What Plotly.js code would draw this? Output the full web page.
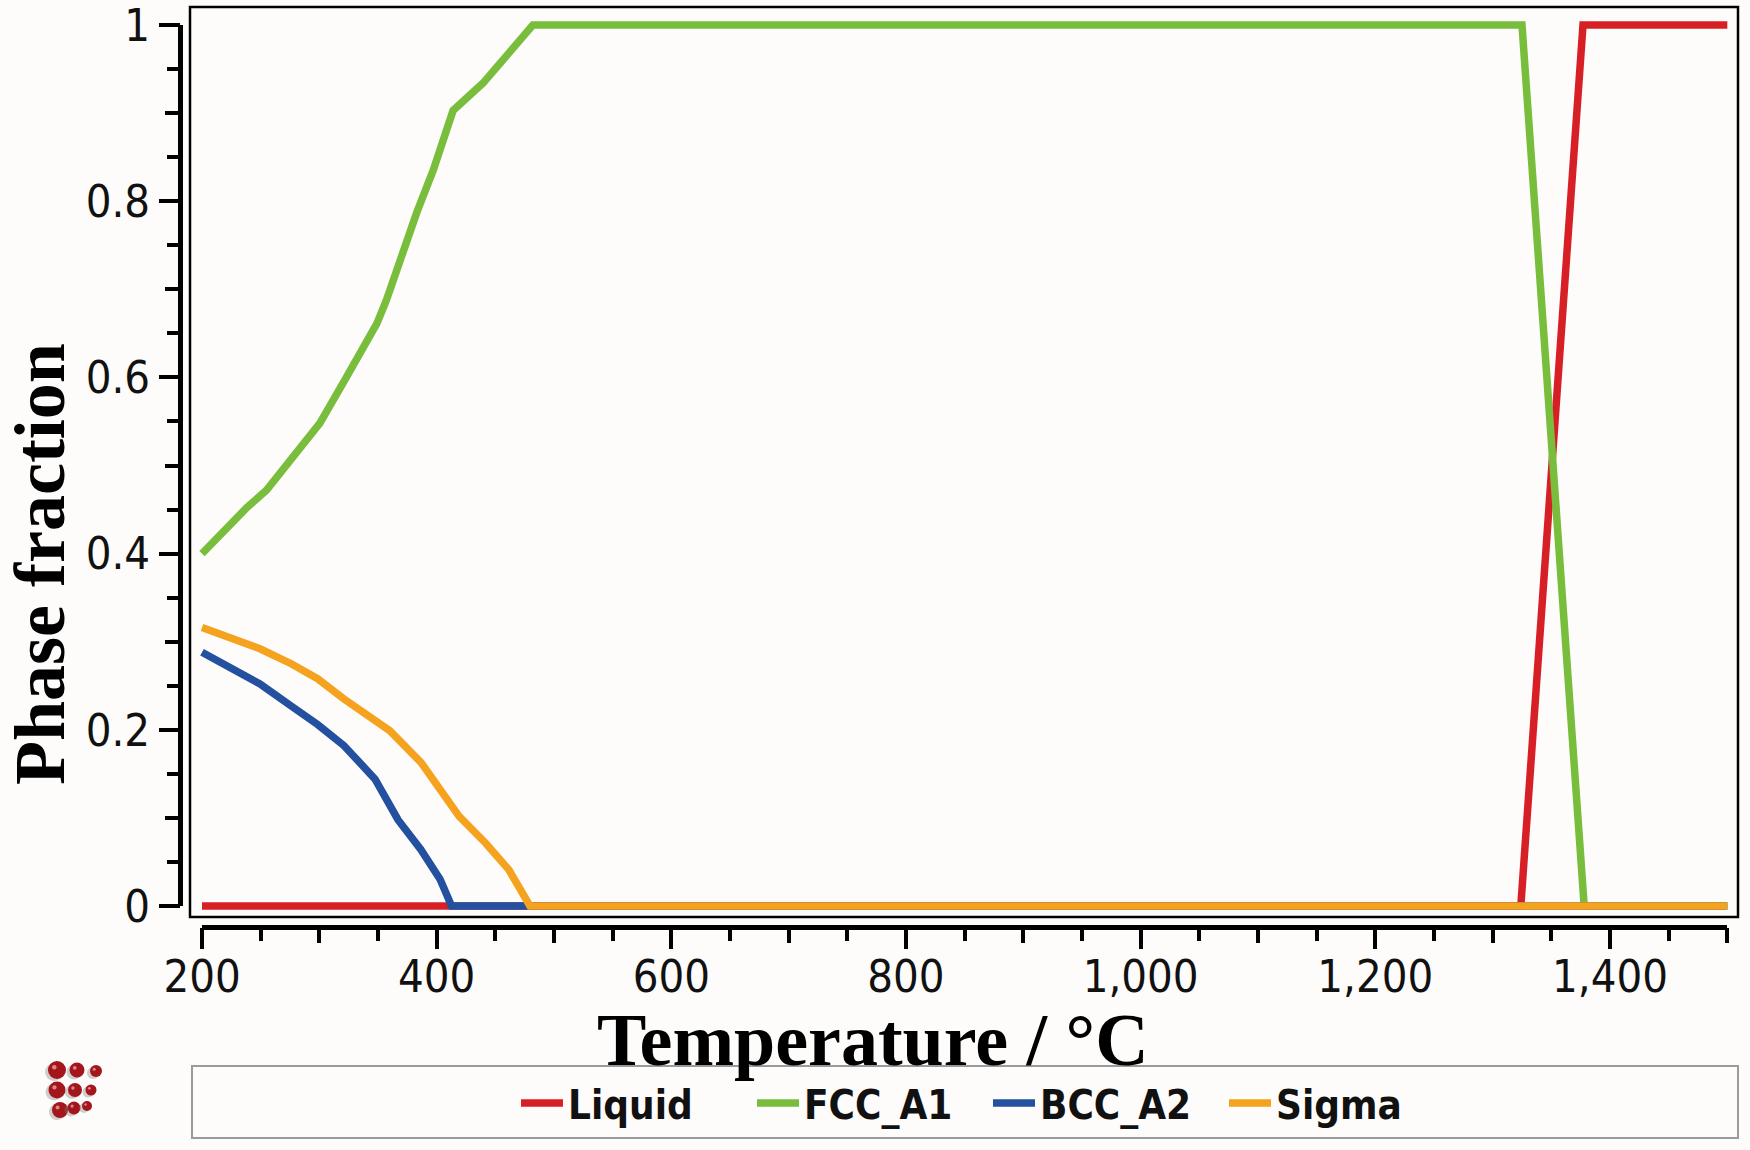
<!DOCTYPE html>
<html><head><meta charset="utf-8">
<script src="https://cdn.plot.ly/plotly-3.0.1.min.js"></script>
<style>html,body{margin:0;padding:0;background:#fdfcfb;} #chart{width:1750px;height:1150px;}</style>
</head><body><div id="chart"></div>
<script>
// ---- data ----
const seriesNames = ['Liquid', 'FCC_A1', 'BCC_A2', 'Sigma'];
const seriesColors = ['#d71f26', '#78bd3c', '#2450a0', '#f5a21e'];

const liquidT = [200, 1324, 1377, 1500];
const liquidF = [0, 0, 1, 1];

const fccT = [200, 238, 255, 275, 300.5, 323, 349, 357, 369, 383, 397, 405, 414, 439.5, 462.5, 482, 1325, 1378, 1500];
const fccF = [0.40, 0.452, 0.472, 0.504, 0.548, 0.60, 0.661, 0.687, 0.735, 0.787, 0.835, 0.87, 0.903, 0.934, 0.968, 1.0, 1.0, 0, 0];

const bccT = [200, 223.5, 249.4, 276, 298.5, 321, 347.5, 367, 386.6, 403, 412.7, 1500];
const bccF = [0.288, 0.271, 0.252, 0.227, 0.206, 0.182, 0.144, 0.098, 0.064, 0.030, 0, 0];

const sigmaT = [200, 223.5, 249.4, 276, 298.5, 321, 347.5, 360, 386.6, 406, 419, 442, 461.6, 479.5, 1500];
const sigmaF = [0.316, 0.305, 0.292, 0.275, 0.258, 0.235, 0.212, 0.199, 0.163, 0.128, 0.102, 0.071, 0.041, 0, 0];

const xTitle = 'Temperature / °C';
const yTitle = 'Phase fraction';
const yTickVals = [0, 0.2, 0.4, 0.6, 0.8, 1];
const yTickText = ['0', '0.2', '0.4', '0.6', '0.8', '1'];

// ---- layout helpers ----
const W = 1750, H = 1150;
const px = v => v / W;
const py = v => (H - v) / H;
const tickFont = {family: 'DejaVu Sans Condensed, DejaVu Sans, sans-serif', size: 45, color: '#111'};
const serif = 'Liberation Serif, Times New Roman, serif';

const xs = [liquidT, fccT, bccT, sigmaT];
const ys = [liquidF, fccF, bccF, sigmaF];
const traces = seriesNames.map((n, i) => ({
  x: xs[i], y: ys[i], name: n, type: 'scatter', mode: 'lines',
  xaxis: 'x', yaxis: 'y',
  line: {color: seriesColors[i], width: 7.5}
}));
traces.push({x: [200], y: [0], xaxis: 'x2', yaxis: 'y2', mode: 'markers',
  marker: {opacity: 0}, showlegend: false, hoverinfo: 'skip'});
traces.push({x: [200], y: [0], xaxis: 'x3', yaxis: 'y3', mode: 'markers',
  marker: {opacity: 0}, showlegend: false, hoverinfo: 'skip'});

const axisCommon = {
  showline: true, linewidth: 5, linecolor: '#000', ticks: 'outside', ticklen: 19, tickwidth: 4,
  tickcolor: '#000', showgrid: false, zeroline: false, tickfont: tickFont, fixedrange: true,
  ticklabeloverflow: 'allow'
};
const midTicks = {
  showline: false, ticks: 'outside', ticklen: 15, tickwidth: 4, tickcolor: '#000',
  showgrid: false, zeroline: false, showticklabels: false, fixedrange: true
};

// logo spheres (decoration)
const logoX = [57, 77, 96, 57, 75, 91, 60, 74, 87];
const logoY = [1070, 1070, 1071, 1090, 1090, 1090, 1110, 1108, 1106];
const logoR = [9, 7.5, 6, 8.5, 7, 5.5, 8, 6.5, 5];

const shapes = [
  {type: 'rect', xref: 'paper', yref: 'paper', x0: px(190), x1: px(1738), y0: py(917), y1: py(7),
   line: {color: '#000', width: 2.5}, fillcolor: 'rgba(0,0,0,0)', layer: 'below'},
  {type: 'rect', xref: 'paper', yref: 'paper', x0: px(192), x1: px(1738), y0: py(1138), y1: py(1066),
   line: {color: '#9a9a9a', width: 2}, fillcolor: 'rgba(0,0,0,0)', layer: 'below'}
];
logoX.forEach((cx, i) => {
  const r = logoR[i], cy = logoY[i];
  shapes.push({type: 'circle', xref: 'paper', yref: 'paper',
    x0: px(cx - r - 3), x1: px(cx + r - 3), y0: py(cy + r + 2), y1: py(cy - r + 2),
    line: {width: 0}, fillcolor: 'rgba(120,120,120,0.35)'});
  shapes.push({type: 'circle', xref: 'paper', yref: 'paper',
    x0: px(cx - r), x1: px(cx + r), y0: py(cy + r), y1: py(cy - r),
    line: {width: 0}, fillcolor: '#a3171c'});
  shapes.push({type: 'circle', xref: 'paper', yref: 'paper',
    x0: px(cx - r * 0.55), x1: px(cx - r * 0.05), y0: py(cy - r * 0.05), y1: py(cy - r * 0.55),
    line: {width: 0}, fillcolor: 'rgba(255,210,210,0.6)'});
});

const xDomain2 = [px(202), px(1727.3)];
const yDomain2 = [py(906.2), py(24.8)];

const layout = {
  width: W, height: H,
  margin: {l: 0, r: 0, t: 0, b: 0},
  paper_bgcolor: '#fdfcfb', plot_bgcolor: 'rgba(0,0,0,0)',
  showlegend: true,
  xaxis: {domain: [px(190), px(1738)], range: [189.77, 1509.1], visible: false, fixedrange: true},
  yaxis: {domain: [py(917), py(7)], range: [-0.01249, 1.02043], visible: false, fixedrange: true},
  xaxis2: Object.assign({}, axisCommon, {
    domain: xDomain2, range: [200, 1500], anchor: 'free', position: py(927),
    tick0: 200, dtick: 200, tickformat: ',', ticklabelstandoff: -11,
    minor: {dtick: 50, ticklen: 11, tickwidth: 4, tickcolor: '#000', ticks: 'outside', showgrid: false}
  }),
  yaxis2: Object.assign({}, axisCommon, {
    domain: yDomain2, range: [-0.0002, 1.0002], anchor: 'free', position: px(180),
    tickmode: 'array', tickvals: yTickVals, ticktext: yTickText,
    minor: {tickmode: 'linear', tick0: 0, dtick: 0.05, ticklen: 11, tickwidth: 4, tickcolor: '#000', ticks: 'outside', showgrid: false}
  }),
  xaxis3: Object.assign({}, midTicks, {
    overlaying: 'x2', domain: xDomain2, range: [200, 1500], anchor: 'free', position: py(927),
    tick0: 200, dtick: 100
  }),
  yaxis3: Object.assign({}, midTicks, {
    overlaying: 'y2', domain: yDomain2, range: [-0.0002, 1.0002], anchor: 'free', position: px(180),
    tick0: 0, dtick: 0.1
  }),
  legend: {
    orientation: 'h', x: px(988), xanchor: 'center', y: py(1103), yanchor: 'middle',
    font: {family: 'DejaVu Sans Condensed, DejaVu Sans, sans-serif', size: 40, weight: 'bold', color: '#111'},
    bgcolor: 'rgba(0,0,0,0)', itemwidth: 42, entrywidth: 179
  },
  annotations: [
    {text: xTitle, xref: 'paper', yref: 'paper', x: px(873), y: py(1040), xanchor: 'center', yanchor: 'middle',
     showarrow: false, font: {family: serif, size: 74, weight: 'bold', color: '#000'}},
    {text: yTitle, xref: 'paper', yref: 'paper', x: px(40), y: py(564), xanchor: 'center', yanchor: 'middle',
     textangle: -90, showarrow: false, font: {family: serif, size: 72, weight: 'bold', color: '#000'}}
  ],
  shapes: shapes
};

Plotly.newPlot('chart', traces, layout, {displayModeBar: false, staticPlot: true});
</script></body></html>
